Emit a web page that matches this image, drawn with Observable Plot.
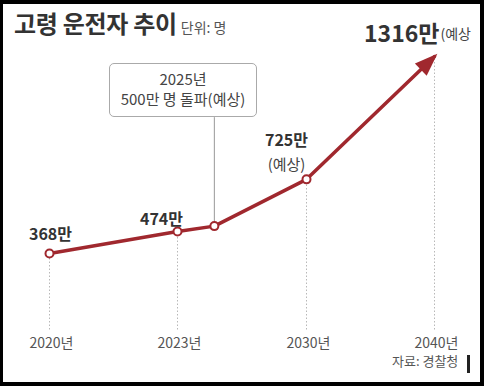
<!DOCTYPE html>
<html>
<head>
<meta charset="utf-8">
<script src="https://cdn.jsdelivr.net/npm/d3@7"></script>
<script src="https://cdn.jsdelivr.net/npm/@observablehq/plot@0.6"></script>
<style>
  body { margin: 0; background: #fff; }
  #wrap { position: relative; width: 484px; height: 386px; background: #fff; overflow: hidden;
          font-family: "Noto Sans CJK KR", "Noto Sans", sans-serif; }
  #chart { position: absolute; left: 0; top: 0; }
  #title { position: absolute; left: 14px; top: 11px; font-size: 24px; line-height: 24px; font-weight: bold; color: #333; white-space: nowrap; letter-spacing: -0.3px; }
  #title span { font-size: 14px; font-weight: normal; color: #555; margin-left: 4px; letter-spacing: 0; }
  #callout { position: absolute; left: 109px; top: 63px; width: 148px; height: 54px; box-sizing: border-box;
             border: 1px solid #aaa; border-radius: 5px; background: #fff; padding-top: 5px;
             font-size: 15px; line-height: 20px; color: #444; text-align: center; white-space: nowrap; }
  #source { position: absolute; left: 392px; top: 354px; font-size: 13px; line-height: 13px; color: #555; white-space: nowrap; }
  #bar { position: absolute; left: 467px; top: 355px; width: 3px; height: 18px; background: #222; }
  #border { position: absolute; left: 0; top: 0; width: 484px; height: 386px; box-sizing: border-box;
            border: 4px solid #000; border-left-width: 3px; pointer-events: none; }
</style>
</head>
<body>
<div id="wrap">
  <div id="chart"></div>
  <div id="title">고령 운전자 추이<span>단위: 명</span></div>
  <div id="callout">2025년<br>500만 명 돌파(예상)</div>
  <div id="source">자료: 경찰청</div>
  <div id="bar"></div>
  <div id="border"></div>
</div>
<script>
// Data (단위: 만 명)
const years = [2020, 2023, 2025, 2030, 2040];
const values = [368, 474, 500, 725, 1316];
const tickYears = [2020, 2023, 2030, 2040];
const tickLabels = ["2020년", "2023년", "2030년", "2040년"];
const calloutYear = 2025;
const calloutTop = 1022; // value level where the callout box's connector ends

const data = years.map((year, i) => ({year, value: values[i]}));
const LINE = "#a0282e";
const pt = y => data.filter(d => d.year === y);

function arrowMarker(color, context) {
  const m = d3.create("svg:marker")
    .attr("viewBox", "-24 -10 30 20")
    .attr("markerWidth", 30)
    .attr("markerHeight", 20)
    .attr("markerUnits", "userSpaceOnUse")
    .attr("orient", "auto")
    .attr("refX", 0)
    .attr("refY", 0)
    .attr("overflow", "visible");
  m.append("path").attr("d", "M4,0L-19,-8.5L-19,8.5Z").attr("fill", LINE).attr("stroke", "none");
  return m.node();
}

const plot = Plot.plot({
  width: 484,
  height: 386,
  marginTop: 38.6,
  marginBottom: 56.5,
  marginLeft: 0,
  marginRight: 0,
  x: {type: "linear", domain: [2020, 2023, 2030, 2040], range: [49, 177, 306, 434], label: null},
  y: {domain: [0, 1400], axis: null, label: null},
  style: {background: "transparent", fontFamily: "'Noto Sans CJK KR', sans-serif", overflow: "visible"},
  marks: [
    Plot.ruleX(data.filter(d => tickYears.includes(d.year)), {
      x: "year", y1: 0, y2: "value", stroke: "#b8b8b8", strokeWidth: 1, strokeDasharray: "1.5 2", insetBottom: 3
    }),
    Plot.ruleX(pt(calloutYear), {x: "year", y1: "value", y2: () => calloutTop, stroke: "#999", strokeWidth: 1}),
    Plot.line(data, {x: "year", y: "value", stroke: LINE, strokeWidth: 3.5, markerEnd: arrowMarker}),
    Plot.dot(data.filter(d => d.year !== 2040), {x: "year", y: "value", r: 4, fill: "white", stroke: LINE, strokeWidth: 2}),
    Plot.text(pt(2020), {x: "year", y: "value", text: d => `${d.value}만`, dx: 1, dy: -19, fontSize: 16, fontWeight: "bold", fill: "#333"}),
    Plot.text(pt(2023), {x: "year", y: "value", text: d => `${d.value}만`, dx: -16, dy: -12, fontSize: 16, fontWeight: "bold", fill: "#333"}),
    Plot.text(pt(2030), {x: "year", y: "value", text: d => `${d.value}만`, dx: -20, dy: -38, fontSize: 16, fontWeight: "bold", fill: "#333"}),
    Plot.text(pt(2030), {x: "year", y: "value", text: () => "(예상)", dx: -20, dy: -14, fontSize: 15, fill: "#444"}),
    Plot.text(pt(2040), {x: "year", y: "value", text: d => `${d.value}만`, textAnchor: "end", dx: 5, dy: -22, fontSize: 23, fontWeight: "bold", fill: "#333"}),
    Plot.text(pt(2040), {x: "year", y: "value", text: () => "(예상", textAnchor: "start", dx: 6, dy: -22, fontSize: 14, fill: "#444"}),
    Plot.axisX(tickYears, {
      tickFormat: d => tickLabels[tickYears.indexOf(d)],
      tickSize: 0, tickPadding: 8, fontSize: 14, color: "#555", dx: 2, label: null
    })
  ]
});
document.getElementById("chart").appendChild(plot);
</script>
</body>
</html>
